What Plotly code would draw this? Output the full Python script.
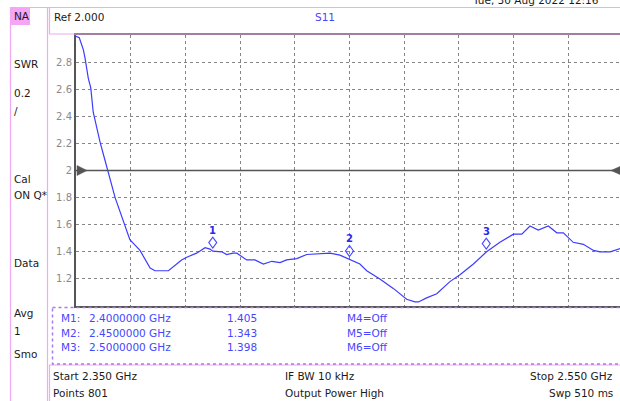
import plotly.graph_objects as go

# ---------------- data ----------------
freq_ghz = [2.3500, 2.3512, 2.3527, 2.3533, 2.3545, 2.3554, 2.3563, 2.3576, 2.3588, 2.3600,
            2.3614, 2.3643, 2.3697, 2.3734, 2.3771, 2.3789, 2.3838, 2.3886, 2.3905, 2.3941,
            2.3972, 2.3990, 2.4000, 2.4033, 2.4051, 2.4074, 2.4088, 2.4124, 2.4154, 2.4185,
            2.4216, 2.4246, 2.4270, 2.4307, 2.4344, 2.4429, 2.4465, 2.4500, 2.4538, 2.4563,
            2.4611, 2.4660, 2.4709, 2.4739, 2.4752, 2.4782, 2.4819, 2.4867, 2.4904, 2.4953,
            2.5000, 2.5050, 2.5099, 2.5130, 2.5160, 2.5190, 2.5227, 2.5258, 2.5282, 2.5318,
            2.5355, 2.5392, 2.5416, 2.5453, 2.5489, 2.5500]
swr = [2.99, 2.98, 2.89, 2.83, 2.68, 2.61, 2.43, 2.31, 2.21, 2.12,
       2.01, 1.80, 1.49, 1.41, 1.28, 1.26, 1.26, 1.34, 1.36, 1.39,
       1.43, 1.42, 1.405, 1.40, 1.38, 1.39, 1.39, 1.34, 1.34, 1.31,
       1.33, 1.32, 1.34, 1.35, 1.38, 1.39, 1.375, 1.343, 1.31, 1.26,
       1.20, 1.13, 1.05, 1.03, 1.03, 1.06, 1.09, 1.18, 1.23, 1.31,
       1.398, 1.47, 1.53, 1.53, 1.59, 1.56, 1.59, 1.54, 1.54, 1.47,
       1.455, 1.41, 1.40, 1.40, 1.42, 1.43]

marker_freq = [2.40, 2.45, 2.50]
marker_swr = [1.405, 1.343, 1.398]
marker_off = ["M4=Off", "M5=Off", "M6=Off"]

y_tickvals = [1.2, 1.4, 1.6, 1.8, 2.0, 2.2, 2.4, 2.6, 2.8]
y_ticktext = ["1.2", "1.4", "1.6", "1.8", "2", "2.2", "2.4", "2.6", "2.8"]
ref_level = 2.0
start_ghz, stop_ghz, div_ghz = 2.35, 2.55, 0.02

left_labels = [("NA", 16), ("SWR", 64), ("0.2", 93), ("/", 111), ("Cal", 179),
               ("ON Q*", 195), ("Data", 263), ("Avg", 313), ("1", 331), ("Smo", 354)]

# ---------------- geometry ----------------
FIG_W, FIG_H = 620, 401
L, R, T, B = 76, 0, 35, 95
PW = FIG_W - L - R
PH = FIG_H - T - B
DIV_PX = 54.7  # pixels per horizontal division (the screen is cut at the right)

def px(x):
    return (x - L) / PW

def py(y):
    return (FIG_H - B - y) / PH

FONT = "DejaVu Sans"
FS = 10.5
PINK = "#f2a8f2"
BLUE = "#4646ff"
TXT = "#1a1a1a"

fig = go.Figure()
fig.add_trace(go.Scatter(x=freq_ghz, y=swr, mode="lines",
                         line=dict(color="#3c3cff", width=1.2),
                         hoverinfo="skip", showlegend=False))

shapes = []
annotations = []

def line(x0, y0, x1, y1, color, width=1, dash="solid"):
    shapes.append(dict(type="line", xref="paper", yref="paper",
                       x0=px(x0), y0=py(y0), x1=px(x1), y1=py(y1),
                       line=dict(color=color, width=width, dash=dash), layer="above"))

def rect(x0, y0, x1, y1, color, width=1, dash="solid", fill="rgba(0,0,0,0)"):
    shapes.append(dict(type="rect", xref="paper", yref="paper",
                       x0=px(x0), y0=py(y0), x1=px(x1), y1=py(y1),
                       line=dict(color=color, width=width, dash=dash),
                       fillcolor=fill, layer="above"))

def text(x, y, s, color=TXT, anchor="left", size=FS, yanchor="middle"):
    annotations.append(dict(xref="paper", yref="paper", x=px(x), y=py(y), text=s,
                            showarrow=False, xanchor=anchor, yanchor=yanchor,
                            font=dict(family=FONT, size=size, color=color)))

# frame / panels
rect(11, 7.5, 30, 25, PINK, width=0, fill="#f6a4f6")
line(10, 7.5, 620, 7.5, PINK, 1.2)
line(10.5, 7, 10.5, 401, PINK, 1.2)
line(47.5, 7, 47.5, 401, PINK, 1.2)
rect(49.5, 7.5, 640, 34, PINK, 1.2)
line(49, 365, 620, 365, PINK, 1.2)
line(49.5, 365, 49.5, 401, PINK, 1.2)
rect(52.5, 307.5, 640, 364, "#a878f0", 1.5, "dot")

# reference line and arrows
shapes.append(dict(type="line", xref="paper", yref="y", x0=0, x1=1, y0=ref_level, y1=ref_level,
                   line=dict(color="#555555", width=1.5), layer="above"))
shapes.append(dict(type="path", xref="paper", yref="y", xsizemode="pixel", ysizemode="pixel",
                   xanchor=0, yanchor=ref_level, path="M1,5 L11,0 L1,-5 Z",
                   fillcolor="#555555", line=dict(color="#555555", width=0.5), layer="above"))
shapes.append(dict(type="path", xref="paper", yref="y", xsizemode="pixel", ysizemode="pixel",
                   xanchor=1, yanchor=ref_level, path="M0,4 L-9,0 L0,-4 Z",
                   fillcolor="#555555", line=dict(color="#555555", width=0.5), layer="above"))

# markers (diamonds + numbers)
for i, (f, v) in enumerate(zip(marker_freq, marker_swr)):
    shapes.append(dict(type="path", xref="x", yref="y", xsizemode="pixel", ysizemode="pixel",
                       xanchor=f, yanchor=v, path="M0,3 L4,8.5 L0,14 L-4,8.5 Z",
                       line=dict(color=BLUE, width=1.1), layer="above"))
    annotations.append(dict(xref="x", yref="y", x=f, y=v, yshift=21, text=f"<b>{i + 1}</b>",
                            showarrow=False, xanchor="center", yanchor="middle",
                            font=dict(family=FONT, size=10, color="#2a2aee")))

# texts
for s, y in left_labels:
    text(12, y, s)
text(52, 17, "Ref 2.000")
text(313, 17, "S11", color=BLUE)
text(470, 8, "Tue, 30 Aug 2022 12:16", yanchor="bottom")

rows_y = [318, 333, 347]
for i, (f, v) in enumerate(zip(marker_freq, marker_swr)):
    text(59, rows_y[i], f"M{i + 1}:", color=BLUE)
    text(87, rows_y[i], f"{f:.7f} GHz", color=BLUE)
    text(225, rows_y[i], f"{v:.3f}", color=BLUE)
    text(345, rows_y[i], marker_off[i], color=BLUE)

text(51, 376, f"Start {start_ghz:.3f} GHz")
text(51, 393, "Points 801")
text(283, 376, "IF BW 10 kHz")
text(283, 393, "Output Power High")
text(615, 376, f"Stop {stop_ghz:.3f} GHz", anchor="right")
text(615, 393, "Swp 510 ms", anchor="right")

x_end = start_ghz + div_ghz * PW / DIV_PX

fig.update_layout(
    width=FIG_W, height=FIG_H,
    margin=dict(l=L, r=R, t=T, b=B, pad=0),
    paper_bgcolor="white", plot_bgcolor="white",
    showlegend=False,
    shapes=shapes, annotations=annotations,
    xaxis=dict(range=[start_ghz, x_end], tick0=start_ghz, dtick=div_ghz,
               showticklabels=False, ticks="", showgrid=True, griddash="dot",
               gridcolor="#858585", gridwidth=1, zeroline=False,
               showline=True, linecolor="#555555", linewidth=2, mirror=True),
    yaxis=dict(range=[1, 3], tickvals=y_tickvals, ticktext=y_ticktext,
               ticks="", showgrid=True, griddash="dot", gridcolor="#858585",
               gridwidth=1, zeroline=False, showline=True, linecolor="#555555",
               linewidth=2, mirror=False,
               tickfont=dict(family=FONT, size=10, color="#8a8a8a")),
    font=dict(family=FONT, size=FS, color=TXT),
)

fig.write_html("out.html", config={"displayModeBar": False},
               post_script="document.body.style.margin='0';document.body.style.overflow='hidden';")
